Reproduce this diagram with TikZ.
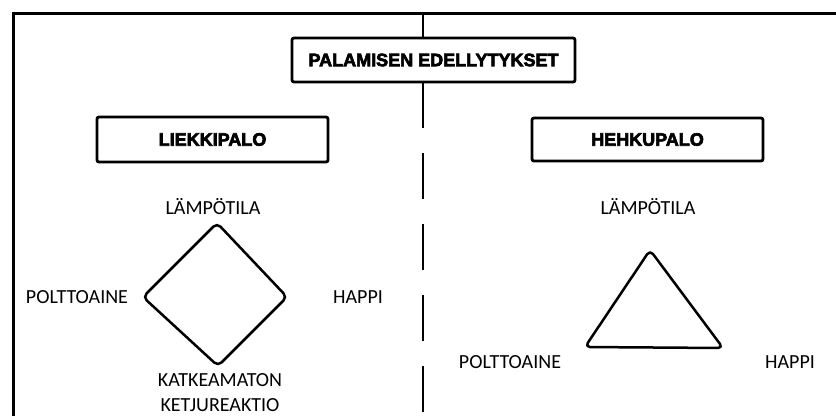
\documentclass[tikz,border=0pt]{standalone}
\usepackage{fontspec}
\setmainfont{Carlito}
\newfontfamily\headfont[FakeBold=3.5]{Liberation Sans}
\tikzset{
  frameline/.style={line width=3pt},
  divline/.style={line width=2.5pt},
  headbox/.style={draw,line width=2.8pt,rounded corners=2pt,fill=white,inner sep=0pt,
    font=\headfont\bfseries\fontsize{18}{20}\selectfont},
  lbl/.style={inner sep=0pt,text height=13pt,text depth=0pt,font=\fontsize{20}{25}\selectfont},
  figline/.style={line width=2.5pt,line join=round,rounded corners=5pt}
}
\begin{document}
\begin{tikzpicture}[x=1pt,y=-1pt]
  \useasboundingbox (0,0) rectangle (836,416);
  % frame and divider
  \coordinate (frbot) at (13,416);
  \coordinate (frcorner) at (13,13);
  \coordinate (frright) at (836,13);
  \draw [frameline] (frbot) -- (frcorner) -- (frright);
  \node [headbox,minimum width=283pt,minimum height=44pt] (title) at (433.5,60) {PALAMISEN EDELLYTYKSET};
  \coordinate (divtop) at (423,13);
  \coordinate (divmid) at (423,128);
  \coordinate (dashtop) at (423,153);
  \coordinate (divbot) at (423,416);
  \draw [divline] (divtop) -- (divtop |- title.north);
  \draw [divline] (divtop |- title.south) -- (divmid);
  \draw [divline,dash pattern=on 46pt off 25pt] (dashtop) -- (divbot);
  % headings
  \node [headbox,minimum width=231pt,minimum height=45pt] (liekki) at (212.5,139.5) {LIEKKIPALO};
  \node [headbox,minimum width=231pt,minimum height=43pt] (hehku) at (647.5,139.5) {HEHKUPALO};
  % diamond
  \coordinate (dtop) at (217,223);
  \coordinate (dright) at (287,297);
  \coordinate (dbot) at (218,366);
  \coordinate (dleft) at (143,297);
  \draw [figline] (dtop) -- (dright) -- (dbot) -- (dleft) -- cycle;
  \node [lbl] (ltemp) at (213,208) {LÄMPÖTILA};
  \node [lbl] (lfuel) at (77,297) {POLTTOAINE};
  \node [lbl] (loxy) at (358,297) {HAPPI};
  \node [inner sep=0pt,anchor=north,align=center,font=\fontsize{20}{25}\selectfont] (lchain) at (220,373.5) {KATKEAMATON\\KETJUREAKTIO};
  % triangle
  \coordinate (ttop) at (650,250);
  \coordinate (tright) at (723,348);
  \coordinate (tleft) at (585,347);
  \draw [figline] (ttop) -- (tright) -- (tleft) -- cycle;
  \node [lbl] (rtemp) at (648,208) {LÄMPÖTILA};
  \node [lbl] (rfuel) at (510,362) {POLTTOAINE};
  \node [lbl] (roxy) at (790,362) {HAPPI};
\end{tikzpicture}
\end{document}
